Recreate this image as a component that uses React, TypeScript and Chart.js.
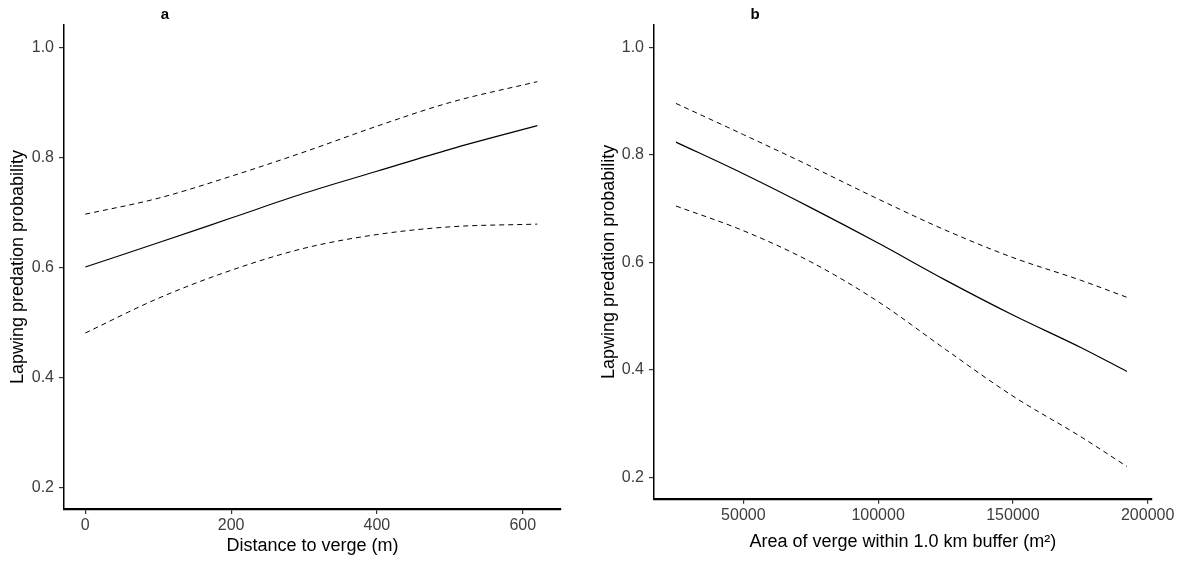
import React, { useEffect, useRef } from 'react';
import { Chart, registerables } from 'chart.js';

Chart.register(...registerables);

// ---- Panel a: distance to verge ----
const distanceX = [0, 100, 200, 300, 400, 500, 620];
const distanceFit = [0.601, 0.645, 0.69, 0.735, 0.775, 0.815, 0.858];
const distanceUpper = [0.697, 0.726, 0.766, 0.81, 0.857, 0.9, 0.938];
const distanceLower = [0.481, 0.544, 0.595, 0.635, 0.66, 0.674, 0.679];
const distanceTicks = [0, 200, 400, 600];

// ---- Panel b: area of verge ----
const areaX = [25000, 50000, 75000, 100000, 125000, 150000, 175000, 192300];
const areaFit = [0.824, 0.765, 0.702, 0.636, 0.567, 0.502, 0.442, 0.397];
const areaUpper = [0.896, 0.838, 0.779, 0.718, 0.66, 0.609, 0.567, 0.535];
const areaLower = [0.705, 0.659, 0.601, 0.527, 0.438, 0.351, 0.276, 0.22];
const areaTicks = [50000, 100000, 150000, 200000];

const probTicks = [0.2, 0.4, 0.6, 0.8, 1.0];

const FONT = '"Liberation Sans", Arial, Helvetica, sans-serif';

type PanelProps = {
  label: string;
  left: number;
  width: number;
  xs: number[];
  fit: number[];
  upper: number[];
  lower: number[];
  xTicks: number[];
  xMin: number;
  xMax: number;
  yMin: number;
  yMax: number;
  xTitle: string;
  yAxisWidth: number;
  xAxisHeight: number;
  padRight: number;
  yTitlePad: number;
  xTitlePad: number;
};

function Panel(p: PanelProps) {
  const ref = useRef<HTMLCanvasElement | null>(null);
  useEffect(() => {
    if (!ref.current) return;
    const toPts = (ys: number[]) => p.xs.map((x, i) => ({ x, y: ys[i] }));
    const lineDs = (ys: number[], dashed: boolean) => ({
      data: toPts(ys),
      borderColor: '#000',
      borderWidth: dashed ? 1 : 1.2,
      borderDash: dashed ? [5, 4] : [],
      pointRadius: 0,
      fill: false,
      cubicInterpolationMode: 'monotone' as const,
      tension: 0.4,
    });
    const titlePlugin = {
      id: 'panelTitle',
      afterDraw(chart: any) {
        const { ctx, chartArea } = chart;
        ctx.save();
        ctx.font = `bold 15px ${FONT}`;
        ctx.fillStyle = '#000';
        ctx.textAlign = 'center';
        ctx.textBaseline = 'middle';
        ctx.fillText(p.label, chartArea.left + 0.203 * (chartArea.right - chartArea.left), 15);
        ctx.restore();
      },
    };
    const chart = new Chart(ref.current, {
      type: 'line',
      data: {
        datasets: [lineDs(p.upper, true), lineDs(p.fit, false), lineDs(p.lower, true)],
      },
      options: {
        animation: false,
        responsive: false,
        maintainAspectRatio: false,
        layout: { padding: { top: 25, right: p.padRight, bottom: 0, left: 0 } },
        plugins: { legend: { display: false }, tooltip: { enabled: false }, title: { display: false } },
        scales: {
          x: {
            type: 'linear',
            min: p.xMin,
            max: p.xMax,
            afterBuildTicks: (scale: any) => {
              scale.ticks = p.xTicks.map((v) => ({ value: v }));
            },
            afterFit: (scale: any) => {
              scale.height = p.xAxisHeight;
            },
            ticks: {
              color: '#3d3d3d',
              font: { family: FONT, size: 16 },
              padding: 2,
              maxRotation: 0,
              autoSkip: false,
              callback: (v: any) => String(v),
            },
            grid: { display: true, drawOnChartArea: false, drawTicks: true, tickLength: 5, tickColor: '#333', lineWidth: 1.2 },
            border: { display: true, color: '#000', width: 2.2 },
            title: {
              display: true,
              text: p.xTitle,
              color: '#000',
              font: { family: FONT, size: 18 },
              padding: { top: 0, bottom: p.xTitlePad },
            },
          },
          y: {
            type: 'linear',
            min: p.yMin,
            max: p.yMax,
            afterBuildTicks: (scale: any) => {
              scale.ticks = probTicks.map((v) => ({ value: v }));
            },
            afterFit: (scale: any) => {
              scale.width = p.yAxisWidth;
            },
            ticks: {
              color: '#3d3d3d',
              font: { family: FONT, size: 16 },
              padding: 5,
              autoSkip: false,
              callback: (v: any) => Number(v).toFixed(1),
            },
            grid: { display: true, drawOnChartArea: false, drawTicks: true, tickLength: 5, tickColor: '#333', lineWidth: 1.2 },
            border: { display: true, color: '#000', width: 1.5 },
            title: {
              display: true,
              text: 'Lapwing predation probability',
              color: '#000',
              font: { family: FONT, size: 18 },
              padding: { top: p.yTitlePad, bottom: 0 },
            },
          },
        },
      },
      plugins: [titlePlugin],
    } as any);
    return () => chart.destroy();
  }, []);
  return (
    <canvas
      ref={ref}
      width={p.width}
      height={568}
      style={{ position: 'absolute', left: p.left, top: 0, width: p.width, height: 568, display: 'block' }}
    />
  );
}

export default function App() {
  return (
    <div style={{ position: 'absolute', left: 0, top: 0, width: 1185, height: 568, background: '#fff', overflow: 'hidden' }}>
      <Panel
        label="a"
        left={0}
        width={592}
        xs={distanceX}
        fit={distanceFit}
        upper={distanceUpper}
        lower={distanceLower}
        xTicks={distanceTicks}
        xMin={-29.2}
        xMax={652.5}
        yMin={0.161}
        yMax={1.041}
        xTitle="Distance to verge (m)"
        yAxisWidth={64}
        xAxisHeight={59}
        padRight={31}
        yTitlePad={7.5}
        xTitlePad={11.5}
      />
      <Panel
        label="b"
        left={592}
        width={593}
        xs={areaX}
        fit={areaFit}
        upper={areaUpper}
        lower={areaLower}
        xTicks={areaTicks}
        xMin={16850}
        xMax={201500}
        yMin={0.16}
        yMax={1.042}
        xTitle="Area of verge within 1.0 km buffer (m²)"
        yAxisWidth={62}
        xAxisHeight={69.3}
        padRight={33.3}
        yTitlePad={6.5}
        xTitlePad={15.5}
      />
    </div>
  );
}
